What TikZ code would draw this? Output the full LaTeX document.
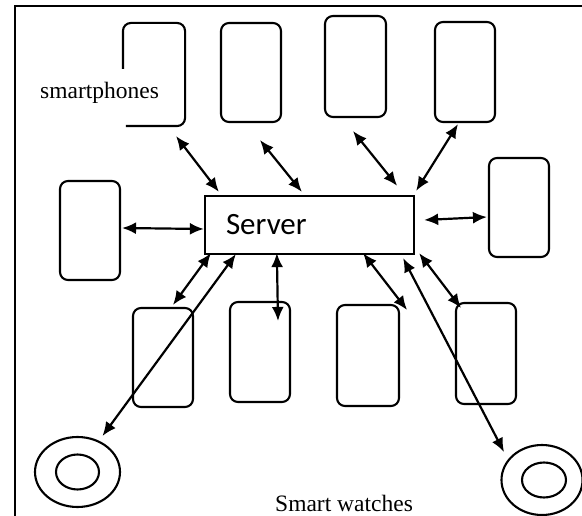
\documentclass[tikz,border=0pt]{standalone}
\usepackage{fontspec}
\setmainfont{Liberation Serif}
\newfontfamily\srvfont{Carlito}
\usetikzlibrary{arrows.meta,shapes.geometric,calc}
\tikzset{
  phone/.style={draw, rounded corners=8pt, line width=2.1pt, minimum width=60pt, minimum height=100pt, inner sep=0pt},
  phoneline/.style={draw, rounded corners=8pt, line width=2.1pt},
  watch/.style={draw, ellipse, line width=2.1pt, inner sep=0pt},
  arr/.style={{Latex[length=14pt,width=12pt]}-{Latex[length=14pt,width=12pt]}, line width=2.2pt},
  frameline/.style={line width=2.2pt},
  lbl/.style={font=\fontsize{23.5}{27}\selectfont, inner sep=0pt, anchor=base west}
}
\begin{document}
\begin{tikzpicture}[x=1pt,y=-1pt]
\useasboundingbox (0,0) rectangle (582,516);
\fill[white] (0,0) rectangle (582,516);
% frame
\coordinate (fbl) at (15,516);
\coordinate (ftl) at (15,6);
\coordinate (ftr) at (582,6);
\draw[frameline] (fbl) -- (ftl) -- (ftr);
% server
\node[draw, line width=2.3pt, minimum width=209pt, minimum height=58pt, text width=167pt, inner xsep=21pt, inner ysep=0pt, align=left, font=\srvfont\fontsize{31}{35}\selectfont] (srv) at (309.5,225) {Server};
% top phones
\node[phone, draw=none, minimum height=101pt] (p1) at (154,74.5) {};
\draw[phoneline] ($(p1.south west)+(3,0)$) -- (p1.south east) -- (p1.north east) -- (p1.north west) -- ($(p1.north west)+(0,46)$);
\node[phone, minimum height=99pt] (p2) at (251,72.5) {};
\node[phone, minimum width=61pt, minimum height=101pt] (p3) at (355.5,66.5) {};
\node[phone] (p4) at (465,72) {};
\node[phone, minimum height=99pt] (pl) at (90,230.5) {};
\node[phone, minimum height=99pt] (pr) at (519,207.5) {};
% bottom phones
\node[phone, minimum height=99pt] (b1) at (163,357.5) {};
\node[phone] (b2) at (260,352) {};
\node[phone, minimum width=62pt, minimum height=101pt] (b3) at (368,355.5) {};
\node[phone, minimum height=101pt] (b4) at (486,353.5) {};
% watches
\node[watch, minimum width=85pt, minimum height=70pt] (wl) at (77.5,472) {};
\node[watch, minimum width=43pt, minimum height=35pt] (wli) at (77.5,472) {};
\node[watch, minimum width=81pt, minimum height=70pt] (wr) at (542,480) {};
\node[watch, minimum width=44pt, minimum height=35pt] (wri) at (544,480) {};
% labels
\node[lbl] (tsp) at (40,99) {smartphones};
\node[lbl] (tsw) at (275,511) {Smart watches};
% arrows
\draw[arr] ($(p1.south)+(22,10)$) -- ($(srv.north west)+(15,-3)$);
\draw[arr] ($(p2.south)+(9,17)$) -- ($(srv.north west)+(98,-3)$);
\draw[arr] ($(p3.south)+(-2.5,13)$) -- ($(srv.north east)+(-18,-9)$);
\draw[arr] ($(p4.south)+(-7,1)$) -- ($(srv.north east)+(1,-4)$);
\draw[arr] ($(pl.east)+(1,-2.5)$) -- ($(srv.west)+(0,4)$);
\draw[arr] ($(pr.west)+(-1,9.5)$) -- ($(srv.east)+(9,-5)$);
\draw[arr] ($(b1.north)+(10,-2)$) -- ($(srv.south west)+(7,-2)$);
\draw[arr] ($(wl.center)+(25,-36)$) -- ($(srv.south west)+(32,-1)$);
\draw[arr] ($(b2.north)+(18,20)$) -- ($(srv.south west)+(73,-2)$);
\draw[arr] ($(b3.north east)+(7,6)$) -- ($(srv.south east)+(-52,-2)$);
\draw[arr] ($(wr.center)+(-38,-28)$) -- ($(srv.south east)+(-12,3)$);
\draw[arr] ($(b4.north west)+(6,6)$) -- ($(srv.south east)+(4,-2)$);
\end{tikzpicture}
\end{document}
